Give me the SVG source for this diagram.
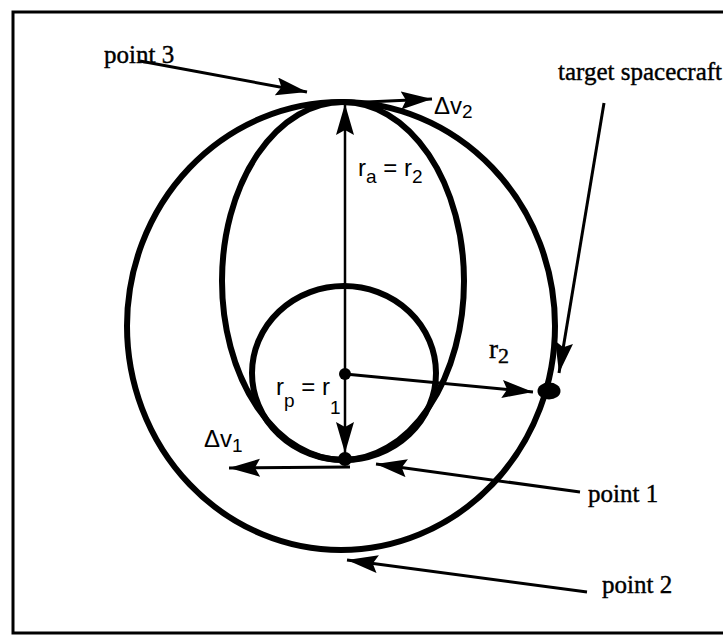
<svg xmlns="http://www.w3.org/2000/svg" width="723" height="636" viewBox="0 0 723 636">
<style>
.orbit{fill:none;stroke:#000;stroke-width:6}
.arr{fill:none;stroke:#000;stroke-width:3;marker-end:url(#ah)}
.thin{fill:none;stroke:#000;stroke-width:2.5}
.serif{font-family:"Liberation Serif","Times New Roman",serif;font-size:25px;fill:#000;stroke:#000;stroke-width:0.4}
.sans{font-family:"Liberation Sans",Arial,sans-serif;font-size:24px;fill:#000}
.sub{font-size:19px}
</style>
<defs>
<marker id="ah" markerUnits="userSpaceOnUse" markerWidth="34" markerHeight="20" refX="31" refY="9" orient="auto">
<path d="M0,0 L31,9 L0,18 L5,9 Z" fill="#000"/>
</marker>
</defs>
<rect width="723" height="636" fill="#fff"/>
<path d="M723,12 H13 V633 H723" fill="none" stroke="#000" stroke-width="3"/>
<g id="large-orbit"><ellipse class="orbit" cx="341" cy="326" rx="214" ry="224"/></g>
<g id="transfer-orbit"><ellipse class="orbit" cx="343" cy="281" rx="121" ry="179"/></g>
<g id="small-orbit"><ellipse class="orbit" cx="344" cy="373" rx="92" ry="87"/></g>
<g id="connectors">
<line class="thin" x1="345" y1="373" x2="345" y2="104" marker-end="url(#ah)"/>
<line class="thin" x1="345" y1="373" x2="345" y2="453" marker-end="url(#ah)"/>
<line class="arr" x1="345" y1="374" x2="533" y2="392"/>
<line class="arr" x1="345" y1="103" x2="432" y2="99"/>
<line class="arr" x1="350" y1="467" x2="229" y2="468"/>
<line class="arr" x1="140" y1="61" x2="307" y2="92"/>
<line class="arr" x1="604" y1="103" x2="559" y2="373"/>
<line class="arr" x1="580" y1="492" x2="376" y2="464"/>
<line class="arr" x1="587" y1="592" x2="347" y2="560"/>
</g>
<g id="center"><circle cx="345" cy="374" r="6"/></g>
<g id="point1-dot"><circle cx="345" cy="459" r="7"/></g>
<g id="target"><ellipse cx="549" cy="391" rx="11.5" ry="8.5"/></g>
<g id="labels">
<text class="serif" x="104" y="63">point 3</text>
<text class="serif" x="558" y="80">target spacecraft</text>
<text class="serif" x="588" y="502">point 1</text>
<text class="serif" x="602" y="593">point 2</text>
<text class="serif" x="489" y="358" style="font-size:27px">r<tspan dy="5" style="font-size:22px">2</tspan></text>
<text class="sans" x="434" y="114">Δv<tspan class="sub" dy="4">2</tspan></text>
<text class="sans" x="204" y="447">Δv<tspan class="sub" dy="5">1</tspan></text>
<text class="sans" x="358" y="176">r<tspan class="sub" dy="7">a</tspan><tspan dy="-7"> = r</tspan><tspan class="sub" dy="7">2</tspan></text>
<text class="sans" x="276" y="395">r<tspan class="sub" dy="12">p</tspan><tspan dy="-12"> = r</tspan><tspan class="sub" dy="19">1</tspan></text>
</g>
</svg>
